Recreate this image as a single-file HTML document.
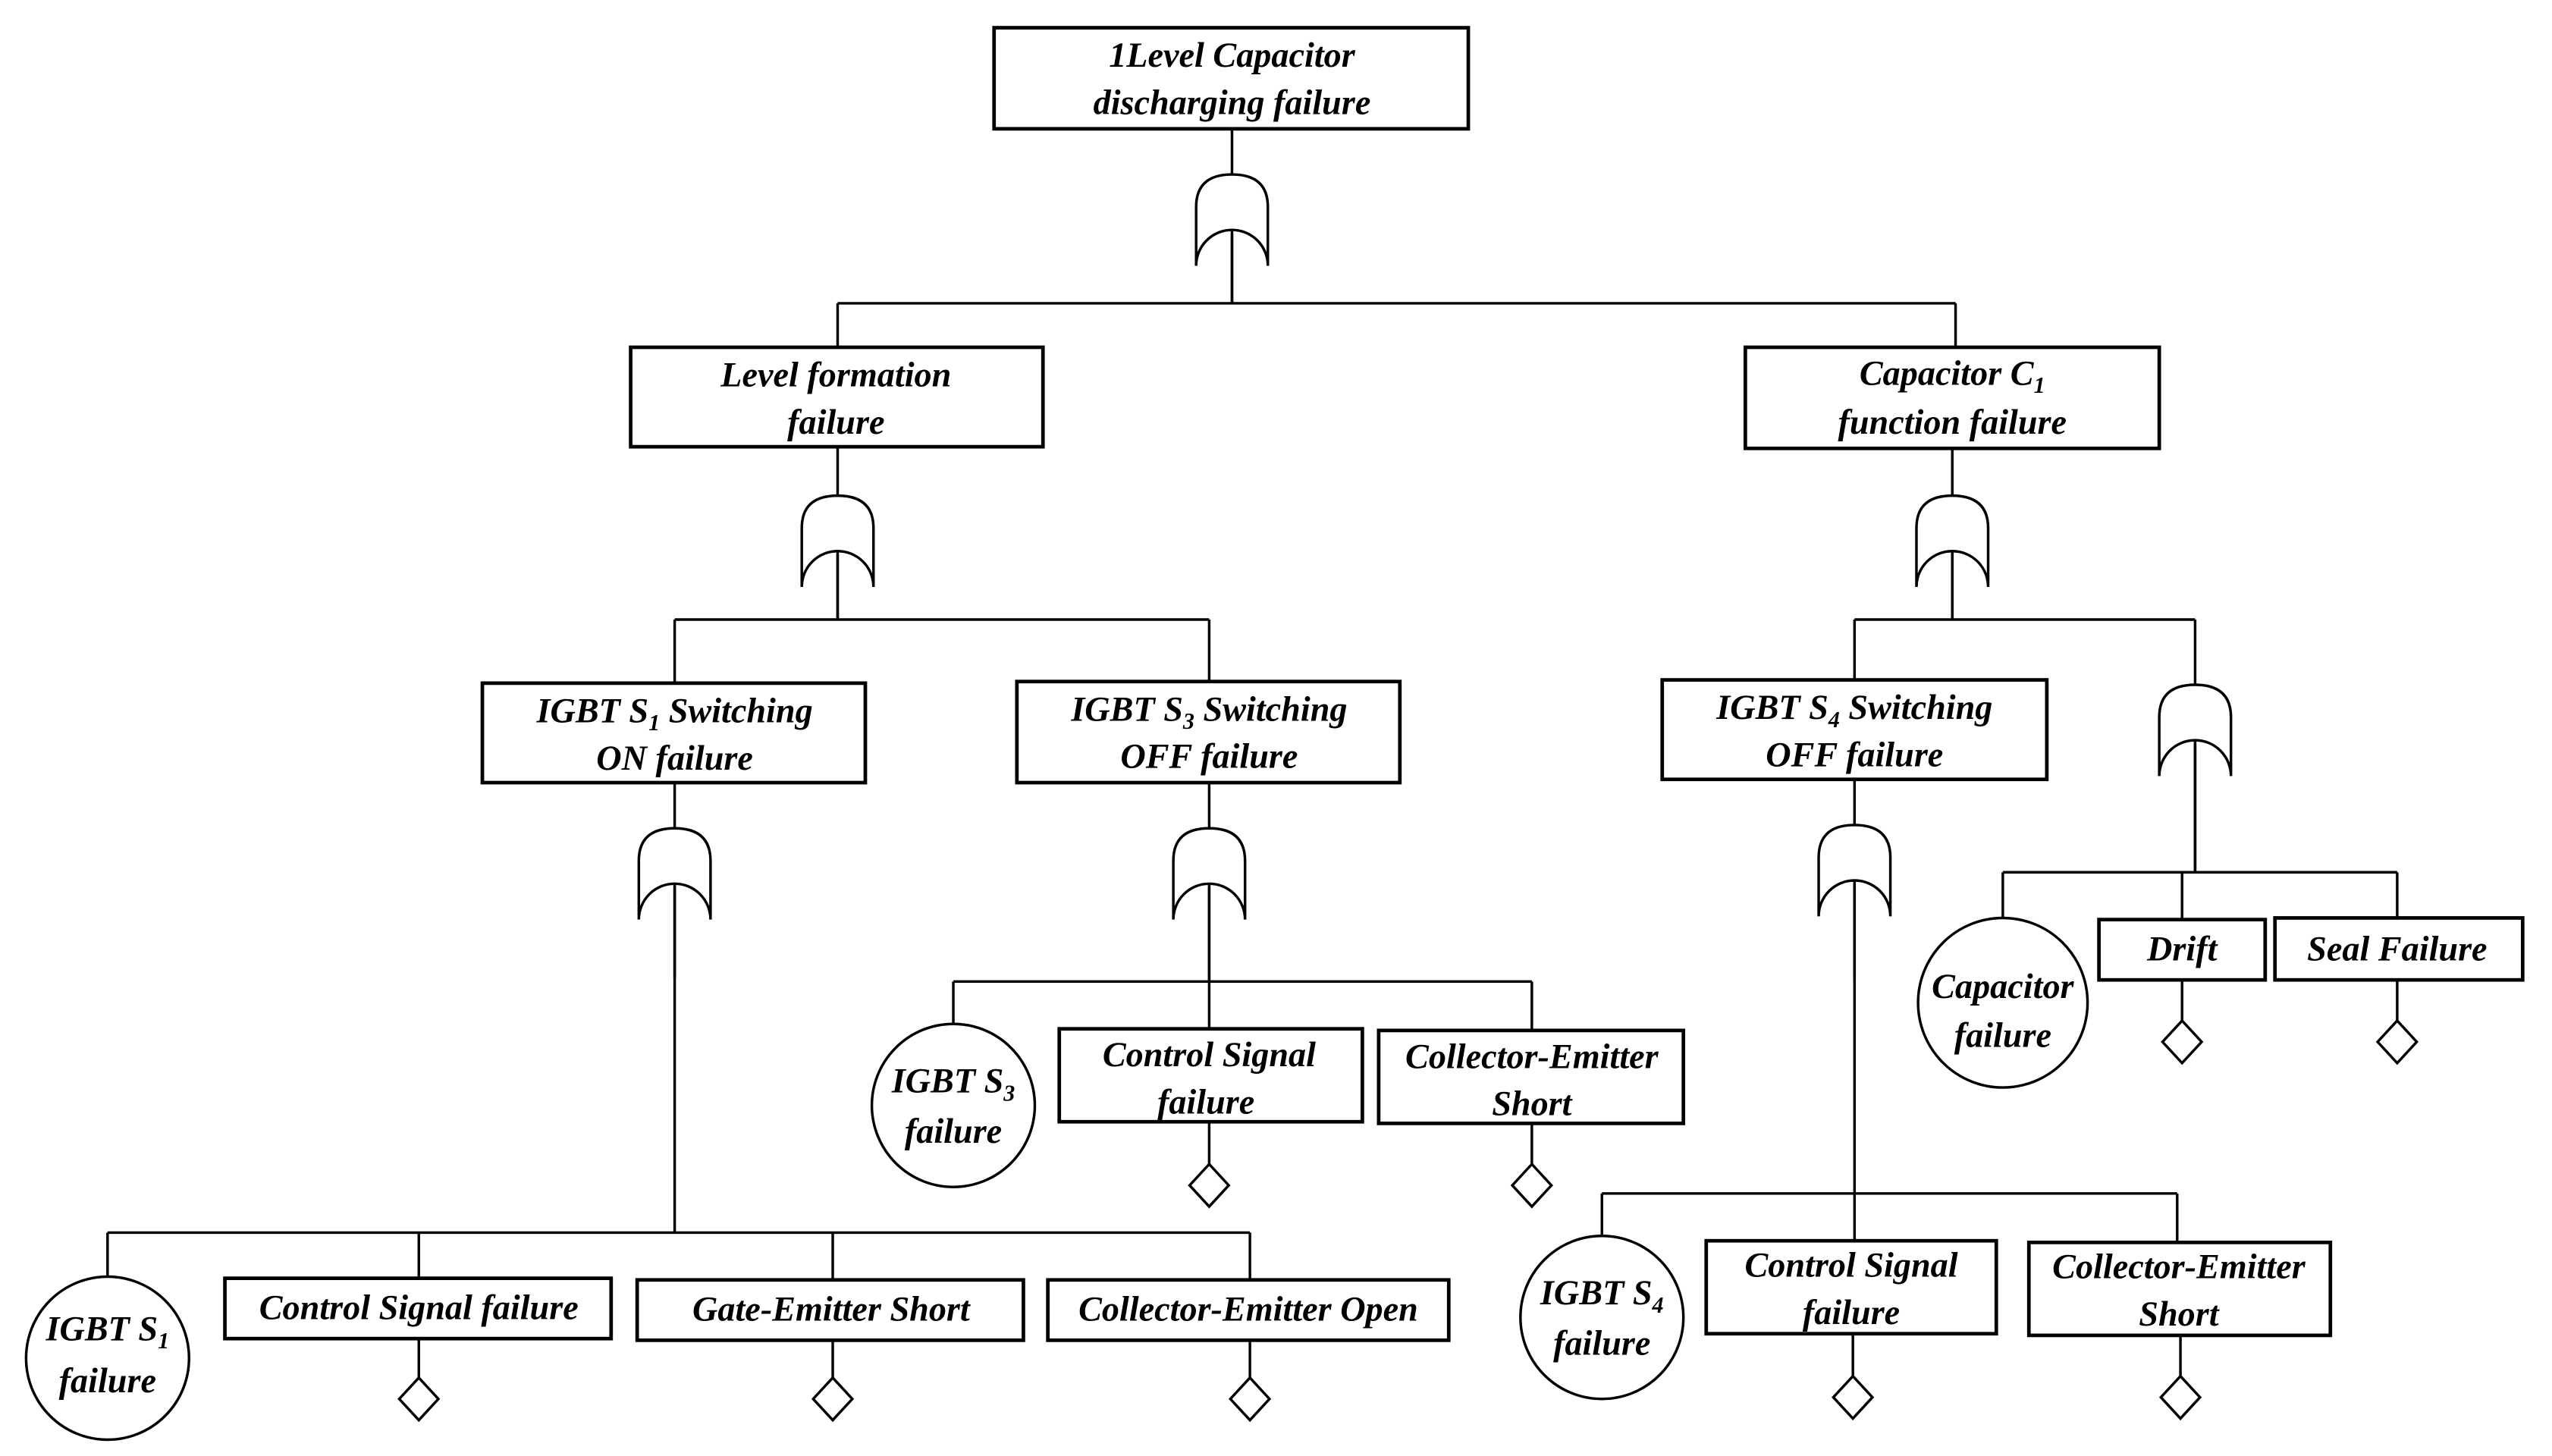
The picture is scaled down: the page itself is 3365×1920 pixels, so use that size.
<!DOCTYPE html>
<html><head><meta charset="utf-8"><style>
html,body{margin:0;padding:0;background:#fff;}
svg{display:block;}
text{font-family:"Liberation Serif",serif;font-weight:bold;font-style:italic;font-size:21.5px;fill:#000;text-anchor:middle;}
.s{font-size:14px;}
</style></head><body>
<svg width="3365" height="1920" viewBox="0 0 1566 893" preserveAspectRatio="none" xmlns="http://www.w3.org/2000/svg">
<defs>
<path id="g" d="M-22,28 L-22,20 Q-22,0 0,0 Q22,0 22,20 L22,56 A22,22 0 0 0 -22,56 Z" />
</defs>
<g fill="none" stroke="#000" stroke-width="1.6">
<rect x="610" y="17" width="291" height="62" stroke-width="2.2"/>
<line x1="756" y1="79" x2="756" y2="186"/>
<line x1="514" y1="186" x2="1200" y2="186"/>
<line x1="514" y1="186" x2="514" y2="213"/>
<line x1="1200" y1="186" x2="1200" y2="213"/>
<rect x="387" y="213" width="253" height="61" stroke-width="2.2"/>
<rect x="1071" y="213" width="254" height="62" stroke-width="2.2"/>
<line x1="514" y1="274" x2="514" y2="380"/>
<line x1="414" y1="380" x2="742" y2="380"/>
<line x1="414" y1="380" x2="414" y2="419"/>
<line x1="742" y1="380" x2="742" y2="418"/>
<line x1="1198" y1="275" x2="1198" y2="380"/>
<line x1="1138" y1="380" x2="1347" y2="380"/>
<line x1="1138" y1="380" x2="1138" y2="417"/>
<line x1="1347" y1="380" x2="1347" y2="535"/>
<rect x="296" y="419" width="235" height="61" stroke-width="2.2"/>
<rect x="624" y="418" width="235" height="62" stroke-width="2.2"/>
<rect x="1020" y="417" width="236" height="61" stroke-width="2.2"/>
<line x1="414" y1="480" x2="414" y2="756"/>
<line x1="66" y1="756" x2="767" y2="756"/>
<line x1="66" y1="756" x2="66" y2="783"/>
<line x1="257" y1="756" x2="257" y2="784"/>
<line x1="511" y1="756" x2="511" y2="784"/>
<line x1="767" y1="756" x2="767" y2="784"/>
<circle cx="66" cy="833" r="50"/>
<rect x="138" y="784" width="237" height="37" stroke-width="2.2"/>
<rect x="391" y="785" width="237" height="37" stroke-width="2.2"/>
<rect x="643" y="785" width="246" height="37" stroke-width="2.2"/>
<line x1="257" y1="821" x2="257" y2="845"/><path d="M257,845 L269,858 L257,871 L245,858 Z"/>
<line x1="511" y1="822" x2="511" y2="845"/><path d="M511,845 L523,858 L511,871 L499,858 Z"/>
<line x1="767" y1="822" x2="767" y2="845"/><path d="M767,845 L779,858 L767,871 L755,858 Z"/>
<line x1="742" y1="480" x2="742" y2="631"/>
<line x1="585" y1="602" x2="940" y2="602"/>
<line x1="585" y1="602" x2="585" y2="628"/>
<line x1="940" y1="602" x2="940" y2="632"/>
<circle cx="585" cy="678" r="50"/>
<rect x="650" y="631" width="186" height="57" stroke-width="2.2"/>
<rect x="846" y="632" width="187" height="57" stroke-width="2.2"/>
<line x1="742" y1="688" x2="742" y2="714"/><path d="M742,714 L754,727 L742,740 L730,727 Z"/>
<line x1="940" y1="689" x2="940" y2="714"/><path d="M940,714 L952,727 L940,740 L928,727 Z"/>
<line x1="1138" y1="478" x2="1138" y2="761"/>
<line x1="983" y1="732" x2="1336" y2="732"/>
<line x1="983" y1="732" x2="983" y2="758"/>
<line x1="1336" y1="732" x2="1336" y2="762"/>
<circle cx="983" cy="808" r="50"/>
<rect x="1047" y="761" width="178" height="57" stroke-width="2.2"/>
<rect x="1245" y="762" width="185" height="57" stroke-width="2.2"/>
<line x1="1137" y1="818" x2="1137" y2="844"/><path d="M1137,844 L1149,857 L1137,870 L1125,857 Z"/>
<line x1="1338" y1="819" x2="1338" y2="844"/><path d="M1338,844 L1350,857 L1338,870 L1326,857 Z"/>
<line x1="1229" y1="535" x2="1471" y2="535"/>
<line x1="1229" y1="535" x2="1229" y2="563"/>
<line x1="1339" y1="535" x2="1339" y2="564"/>
<line x1="1471" y1="535" x2="1471" y2="563"/>
<circle cx="1229" cy="615" r="52"/>
<rect x="1288" y="564" width="102" height="37" stroke-width="2.2"/>
<rect x="1396" y="563" width="152" height="38" stroke-width="2.2"/>
<line x1="1339" y1="601" x2="1339" y2="626"/><path d="M1339,626 L1351,639 L1339,652 L1327,639 Z"/>
<line x1="1471" y1="601" x2="1471" y2="626"/><path d="M1471,626 L1483,639 L1471,652 L1459,639 Z"/>
</g>
<g fill="#fff" stroke="#000" stroke-width="1.6">
<use href="#g" x="756" y="107"/>
<use href="#g" x="514" y="304"/>
<use href="#g" x="1198" y="304"/>
<use href="#g" x="414" y="508"/>
<use href="#g" x="742" y="508"/>
<use href="#g" x="1138" y="506"/>
<use href="#g" x="1347" y="420"/>
</g>
<g stroke="#000" stroke-width="1.6">
<line x1="756" y1="143" x2="756" y2="186"/>
<line x1="514" y1="340" x2="514" y2="380"/>
<line x1="1198" y1="340" x2="1198" y2="380"/>
<line x1="414" y1="544" x2="414" y2="600"/>
<line x1="742" y1="544" x2="742" y2="602"/>
<line x1="1138" y1="542" x2="1138" y2="600"/>
<line x1="1347" y1="456" x2="1347" y2="535"/>
</g>
<text x="756" y="41">1Level Capacitor</text>
<text x="756" y="70">discharging failure</text>
<text x="513" y="237">Level formation</text>
<text x="513" y="266">failure</text>
<text x="1198" y="236">Capacitor C<tspan class="s" dy="5">1</tspan></text>
<text x="1198" y="266">function failure</text>
<text x="414" y="443">IGBT S<tspan class="s" dy="5">1</tspan><tspan dy="-5"> Switching</tspan></text>
<text x="414" y="472">ON  failure</text>
<text x="742" y="442">IGBT S<tspan class="s" dy="5">3</tspan><tspan dy="-5"> Switching</tspan></text>
<text x="742" y="471">OFF failure</text>
<text x="1138" y="441">IGBT S<tspan class="s" dy="5">4</tspan><tspan dy="-5"> Switching</tspan></text>
<text x="1138" y="470">OFF failure</text>
<text x="66" y="822">IGBT S<tspan class="s" dy="5">1</tspan></text>
<text x="66" y="854">failure</text>
<text x="257" y="809">Control Signal failure</text>
<text x="510" y="810">Gate-Emitter Short</text>
<text x="766" y="810">Collector-Emitter Open</text>
<text x="585" y="670">IGBT S<tspan class="s" dy="5">3</tspan></text>
<text x="585" y="701">failure</text>
<text x="742" y="654">Control Signal</text>
<text x="740" y="683">failure</text>
<text x="940" y="655">Collector-Emitter</text>
<text x="940" y="684">Short</text>
<text x="983" y="800">IGBT S<tspan class="s" dy="5">4</tspan></text>
<text x="983" y="831">failure</text>
<text x="1136" y="783">Control Signal</text>
<text x="1136" y="812">failure</text>
<text x="1337" y="784">Collector-Emitter</text>
<text x="1337" y="813">Short</text>
<text x="1229" y="612">Capacitor</text>
<text x="1229" y="642">failure</text>
<text x="1339" y="589">Drift</text>
<text x="1471" y="589">Seal Failure</text>
</svg>
</body></html>
